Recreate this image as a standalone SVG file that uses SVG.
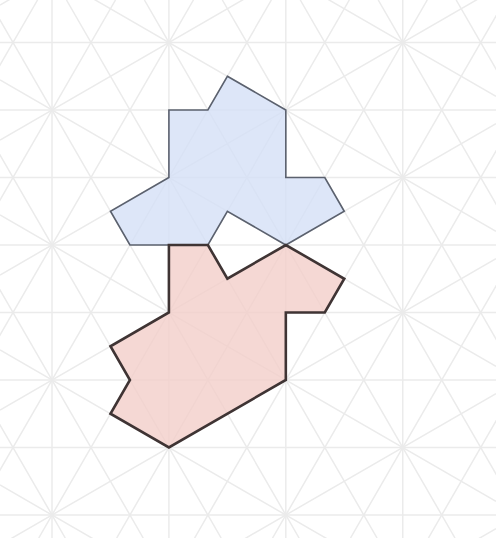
<svg xmlns="http://www.w3.org/2000/svg" width="496" height="538" viewBox="0 0 496 538">
<style>
.g line{stroke:#ebebeb;stroke-width:1.5;fill:none}
.blue{fill:#d4e0f6;fill-opacity:0.8;stroke:#5b616e;stroke-width:1.6;stroke-linejoin:miter}
.red{fill:#f2cec9;fill-opacity:0.8;stroke:#3f3434;stroke-width:2.6;stroke-linejoin:miter}
</style>
<rect width="496" height="538" fill="#ffffff"/>
<g id="grid" class="g">
<line x1="-10" y1="42.5" x2="506" y2="42.5"/>
<line x1="-10" y1="110" x2="506" y2="110"/>
<line x1="-10" y1="177.5" x2="506" y2="177.5"/>
<line x1="-10" y1="245" x2="506" y2="245"/>
<line x1="-10" y1="312.5" x2="506" y2="312.5"/>
<line x1="-10" y1="380" x2="506" y2="380"/>
<line x1="-10" y1="447.5" x2="506" y2="447.5"/>
<line x1="-10" y1="515" x2="506" y2="515"/>
<line x1="52" y1="-10" x2="52" y2="548"/>
<line x1="168.91" y1="-10" x2="168.91" y2="548"/>
<line x1="285.82" y1="-10" x2="285.82" y2="548"/>
<line x1="402.73" y1="-10" x2="402.73" y2="548"/>
<line x1="0" y1="-190.02" x2="496" y2="96.35"/>
<line x1="0" y1="-55.02" x2="496" y2="231.35"/>
<line x1="0" y1="79.98" x2="496" y2="366.35"/>
<line x1="0" y1="214.98" x2="496" y2="501.35"/>
<line x1="0" y1="349.98" x2="496" y2="636.35"/>
<line x1="0" y1="484.98" x2="496" y2="771.35"/>
<line x1="0" y1="5.02" x2="496" y2="-281.35"/>
<line x1="0" y1="140.02" x2="496" y2="-146.35"/>
<line x1="0" y1="275.02" x2="496" y2="-11.35"/>
<line x1="0" y1="410.02" x2="496" y2="123.65"/>
<line x1="0" y1="545.02" x2="496" y2="258.65"/>
<line x1="0" y1="680.02" x2="496" y2="393.65"/>
<line x1="0" y1="815.02" x2="496" y2="528.65"/>
<line x1="456.15" y1="0" x2="766.76" y2="538"/>
<line x1="378.20" y1="0" x2="688.81" y2="538"/>
<line x1="300.26" y1="0" x2="610.87" y2="538"/>
<line x1="222.32" y1="0" x2="532.93" y2="538"/>
<line x1="144.38" y1="0" x2="454.99" y2="538"/>
<line x1="66.44" y1="0" x2="377.05" y2="538"/>
<line x1="-11.51" y1="0" x2="299.10" y2="538"/>
<line x1="-89.45" y1="0" x2="221.16" y2="538"/>
<line x1="-167.39" y1="0" x2="143.22" y2="538"/>
<line x1="-245.33" y1="0" x2="65.28" y2="538"/>
<line x1="37.57" y1="0" x2="-273.04" y2="538"/>
<line x1="115.51" y1="0" x2="-195.10" y2="538"/>
<line x1="193.45" y1="0" x2="-117.16" y2="538"/>
<line x1="271.39" y1="0" x2="-39.22" y2="538"/>
<line x1="349.33" y1="0" x2="38.72" y2="538"/>
<line x1="427.28" y1="0" x2="116.67" y2="538"/>
<line x1="505.22" y1="0" x2="194.61" y2="538"/>
<line x1="583.16" y1="0" x2="272.55" y2="538"/>
<line x1="661.10" y1="0" x2="350.49" y2="538"/>
<line x1="739.04" y1="0" x2="428.43" y2="538"/>
</g>
<g id="blue-piece">
<polygon class="blue" points="227.37,76.25 285.82,110 285.82,177.5 324.79,177.5 344.27,211.25 285.82,245 227.37,211.25 207.88,245 129.94,245 110.46,211.25 168.91,177.5 168.91,110 207.88,110"/>
</g>
<g id="red-piece">
<polygon class="red" points="168.91,245 207.88,245 227.37,278.75 285.82,245 344.27,278.75 324.79,312.5 285.82,312.5 285.82,380 168.91,447.5 110.46,413.75 129.94,380 110.46,346.25 168.91,312.5"/>
</g>
</svg>
